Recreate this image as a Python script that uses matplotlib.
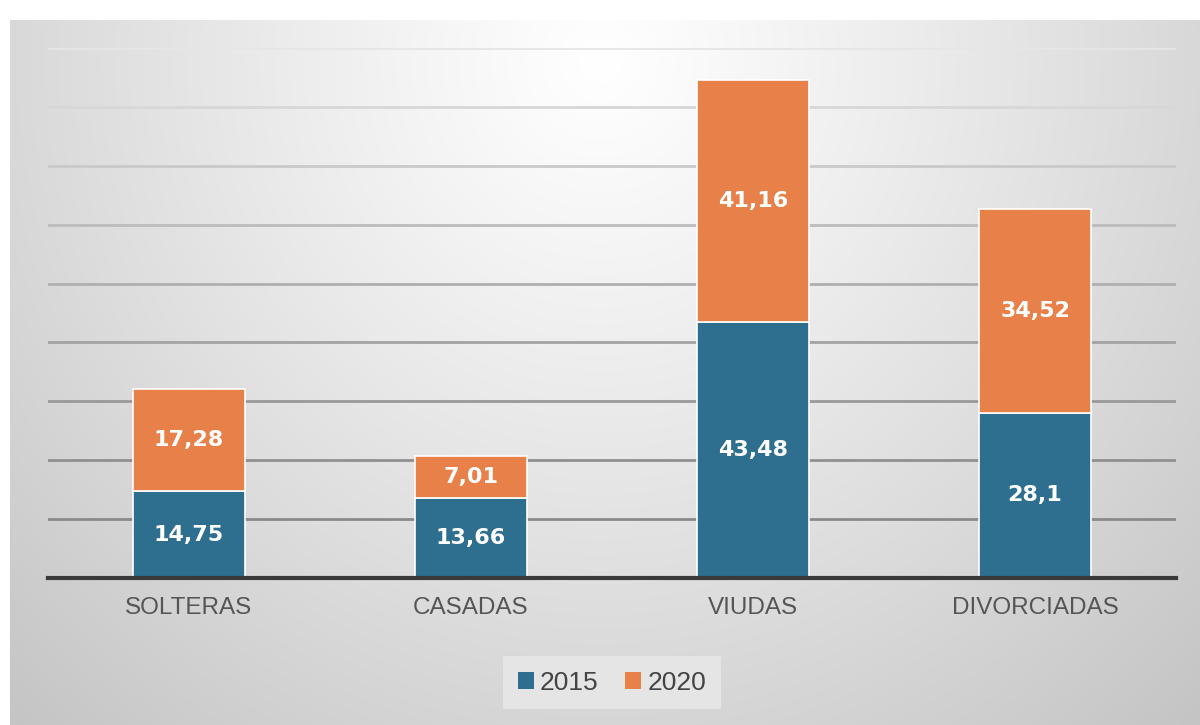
import numpy as np
import matplotlib
matplotlib.use("Agg")
import matplotlib.pyplot as plt
from matplotlib.patches import Patch

plt.rcParams['font.family'] = ['Liberation Sans', 'DejaVu Sans']

categorias = ["SOLTERAS", "CASADAS", "VIUDAS", "DIVORCIADAS"]
anio_2015 = [14.75, 13.66, 43.48, 28.1]
anio_2020 = [17.28, 7.01, 41.16, 34.52]
series = ["2015", "2020"]
colores = ["#2e6e8e", "#e8804a"]


def fmt(v):
    return f"{v:g}".replace(".", ",")


fig = plt.figure(figsize=(12, 7.25), dpi=100)

# radial grey background of the chart panel
bg = fig.add_axes([0, 0, 1, 1], zorder=0)
H, W = 725, 1200
yy, xx = np.mgrid[0:H, 0:W]
d = np.sqrt(((xx - 600) / 1.0) ** 2 + ((yy - 60) / 1.05) ** 2) / 900
img = 1.0 - 0.24 * np.clip(d, 0, 1.2) ** 1.1
img = np.dstack([img] * 3)
img[:20, :, :] = 1.0
img[:, :10, :] = 1.0
bg.imshow(img, aspect="auto", extent=[0, W, H, 0])
bg.set_axis_off()

ax = fig.add_axes([0.04, 0.2028, 0.94, 0.7310], zorder=1)
ax.set_facecolor("none")
x = np.arange(len(categorias))
w = 0.4
b1 = ax.bar(x, anio_2015, w, color=colores[0], edgecolor="white", linewidth=1.2,
            label=series[0], zorder=3)
b2 = ax.bar(x, anio_2020, w, bottom=anio_2015, color=colores[1], edgecolor="white",
            linewidth=1.2, label=series[1], zorder=3)

for bars, vals in ((b1, anio_2015), (b2, anio_2020)):
    for r, v in zip(bars, vals):
        ax.text(r.get_x() + r.get_width() / 2, r.get_y() + r.get_height() / 2, fmt(v),
                ha="center", va="center", color="white", fontsize=16,
                fontweight="bold", family="DejaVu Sans", zorder=4)

ax.set_xlim(-0.5, len(categorias) - 0.5)
ax.set_ylim(0, 90)
ax.set_yticks(np.arange(10, 91, 10))
ax.set_yticklabels([])
ax.tick_params(axis="y", length=0)
ax.tick_params(axis="x", length=0, pad=14, labelsize=17.5, labelcolor="#555555")
ax.set_xticks(x)
ax.set_xticklabels(categorias)
ax.grid(axis="y", linewidth=2, zorder=1)
gl = ax.get_ygridlines()
for i, line in enumerate(gl):
    t = i / max(len(gl) - 1, 1)
    g = 0.54 + 0.36 * t ** 1.3
    line.set_color((g, g, g))
for s in ("top", "right", "left"):
    ax.spines[s].set_visible(False)
ax.spines["bottom"].set_color("#3a3a3a")
ax.spines["bottom"].set_linewidth(3)
ax.spines["bottom"].set_zorder(5)

handles = [Patch(facecolor=c, edgecolor="none") for c in colores]
leg = fig.legend(handles, series, loc="center", bbox_to_anchor=(0.510, 0.058),
                 ncol=2, fontsize=19, frameon=True, handlelength=0.6, handleheight=0.6,
                 handletextpad=0.25, columnspacing=1.0, borderpad=0.55, fancybox=False)
leg.get_frame().set_facecolor("#e9e9e9")
leg.get_frame().set_edgecolor("none")
leg.get_frame().set_alpha(0.8)
for t in leg.get_texts():
    t.set_color("#444444")

fig.savefig("out.png", dpi=100)
